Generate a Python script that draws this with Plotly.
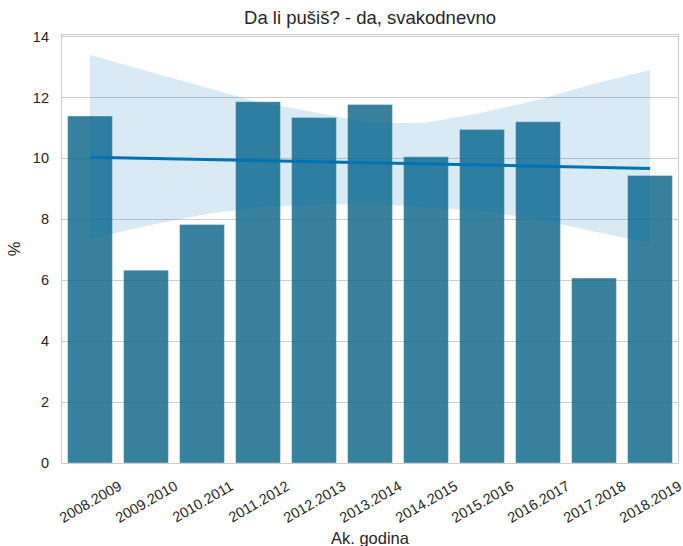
import plotly.graph_objects as go

# Data
years = ["2008.2009", "2009.2010", "2010.2011", "2011.2012", "2012.2013", "2013.2014",
         "2014.2015", "2015.2016", "2016.2017", "2017.2018", "2018.2019"]
percent = [11.39, 6.33, 7.83, 11.86, 11.34, 11.77, 10.05, 10.95, 11.20, 6.07, 9.44]

# regression line (read at ends) and confidence band (read at each year index)
trend_idx = [0, 10]
trend_val = [10.04, 9.67]
band_upper = [13.39, 12.88, 12.35, 11.85, 11.52, 11.15, 11.17, 11.50, 11.92, 12.45, 12.90]
band_lower = [7.35, 7.78, 8.15, 8.40, 8.48, 8.52, 8.40, 8.27, 8.00, 7.60, 7.22]

title = "Da li pušiš? - da, svakodnevno"
x_title = "Ak. godina"
y_title = "%"
y_ticks = [0, 2, 4, 6, 8, 10, 12, 14]

idx = list(range(len(years)))
FONT = "Liberation Sans, Arial, sans-serif"
TXT = "#262626"

fig = go.Figure()
fig.add_trace(go.Bar(
    x=idx, y=percent, width=0.8,
    marker=dict(color="rgba(5,96,134,0.80)", line=dict(color="rgba(255,255,255,0.35)", width=1)),
    showlegend=False, hoverinfo="x+y",
))
fig.add_trace(go.Scatter(
    x=idx + idx[::-1], y=band_upper + band_lower[::-1],
    fill="toself", fillcolor="rgba(1,115,178,0.15)", line=dict(width=0),
    mode="lines", showlegend=False, hoverinfo="skip",
))
fig.add_trace(go.Scatter(
    x=trend_idx, y=trend_val, mode="lines",
    line=dict(color="#0173b2", width=3), showlegend=False,
))

annotations = []
for i, lab in zip(idx, years):
    annotations.append(dict(
        x=i, y=-0.09, xref="x", yref="paper", text=lab, showarrow=False,
        textangle=-30, xanchor="center", yanchor="middle",
        font=dict(family=FONT, size=14.5, color=TXT),
    ))
annotations.append(dict(
    x=0.5, y=-0.175, xref="paper", yref="paper", text=x_title, showarrow=False,
    xanchor="center", yanchor="middle", font=dict(family=FONT, size=16.5, color=TXT),
))

fig.update_layout(
    width=683, height=546,
    margin=dict(l=62, r=5, t=35, b=83),
    paper_bgcolor="white", plot_bgcolor="white",
    title=dict(text=title, x=0.5418, xanchor="center", y=0.967, yanchor="middle",
               font=dict(family=FONT, size=18.5, color=TXT)),
    font=dict(family=FONT, color=TXT),
    xaxis=dict(range=[-0.5, 10.5], showticklabels=False, showgrid=False, zeroline=False,
               showline=True, linecolor="#cccccc", linewidth=1.2, mirror=True, ticks=""),
    yaxis=dict(range=[0, 14.05], tickvals=y_ticks, showgrid=True, gridcolor="#cccccc",
               gridwidth=1, zeroline=False, showline=True, linecolor="#cccccc",
               linewidth=1.2, mirror=True, ticks="", ticklabelstandoff=9,
               tickfont=dict(family=FONT, size=14.5, color=TXT),
               title=dict(text=y_title, standoff=8, font=dict(family=FONT, size=16.5, color=TXT))),
    annotations=annotations,
)

fig.write_html("out.html", config={"displayModeBar": False},
               post_script="document.body.style.margin='0';document.body.style.overflow='hidden';")
